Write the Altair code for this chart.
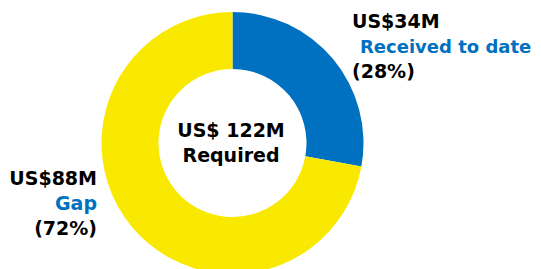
import altair as alt
import pandas as pd

# ---- data ----
categories = ["Received to date", "Gap"]
amounts = [34, 88]          # US$ millions
percents = [28, 72]
total = 122
slice_order = [0, 1]
colors = ["#0070C0", "#F9E900"]

df = pd.DataFrame({"category": categories, "amount": amounts,
                   "pct": percents, "ord": slice_order})

W, H = 525, 261
CX, CY = 224.5, 135
FONT = "DejaVu Sans"
BLUE = "#0070C0"

arc = alt.Chart(df).mark_arc(outerRadius=131, innerRadius=74).encode(
    theta=alt.Theta("amount:Q", stack=True),
    order=alt.Order("ord:Q"),
    color=alt.Color("category:N",
                    scale=alt.Scale(domain=categories, range=colors),
                    legend=None),
    x=alt.value(CX),
    y=alt.value(CY),
)


def label(text, x, y, color, align, size=19):
    return alt.Chart(pd.DataFrame({"t": [text]})).mark_text(
        font=FONT, fontWeight="bold", fontSize=size, align=align,
        baseline="alphabetic", color=color,
    ).encode(text="t:N", x=alt.value(x), y=alt.value(y))


layers = [
    arc,
    # right label (received)
    label(f"US${amounts[0]}M", 344, 20, "black", "left"),
    label(categories[0], 352, 45, BLUE, "left", 18),
    label(f"({percents[0]}%)", 344, 70, "black", "left"),
    # left label (gap)
    label(f"US${amounts[1]}M", 89, 177, "black", "right"),
    label(categories[1], 89, 202, BLUE, "right"),
    label(f"({percents[1]}%)", 89, 227, "black", "right"),
    # centre
    label(f"US$ {total}M", 223, 129, "black", "center"),
    label("Required", 223, 154, "black", "center"),
]

chart = alt.layer(*layers).properties(
    width=W, height=H, padding=0,
    autosize=alt.AutoSizeParams(type="none"),
).configure_view(strokeOpacity=0)

chart.save("out.html", embed_options={"renderer": "svg", "actions": False})
